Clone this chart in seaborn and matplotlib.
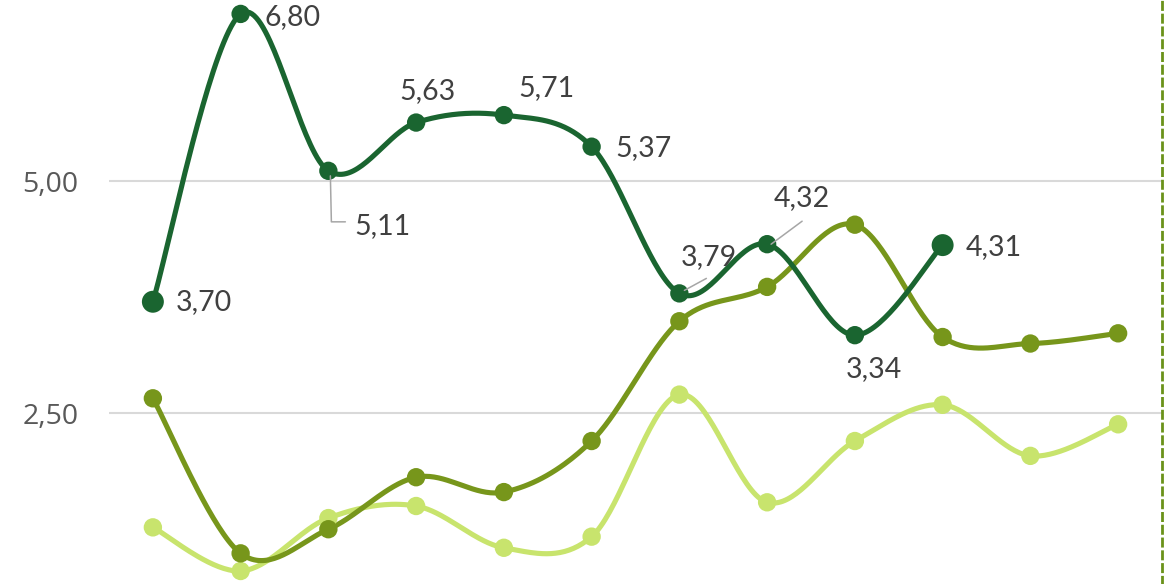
import numpy as np
import pandas as pd
import matplotlib
matplotlib.use("Agg")
import matplotlib.pyplot as plt
from matplotlib.lines import Line2D
import seaborn as sns

# Dados
pontos = list(range(12))
serie_escura = [3.70, 6.80, 5.11, 5.63, 5.71, 5.37, 3.79, 4.32, 3.34, 4.31]
serie_media = [2.66, 0.99, 1.25, 1.81, 1.65, 2.20, 3.49, 3.86, 4.53, 3.32, 3.25, 3.36]
serie_clara = [1.27, 0.80, 1.37, 1.50, 1.05, 1.17, 2.70, 1.54, 2.20, 2.59, 2.04, 2.38]
nomes = ["Escura", "Média", "Clara"]
cores = {"Escura": "#1a6530", "Média": "#77961b", "Clara": "#c8e46d"}
ticks_y = [2.50, 5.00]
rotulos_y = ["2,50", "5,00"]

# Rótulos de dados da série escura: deslocamento em pixels e alinhamento
rotulos = [(23, 0, "left"), (24, -3, "left"), (26, -55, "left"), (11, 32, "center"),
           (43, 27, "center"), (24, -1, "left"), (29, 36, "center"), (35, 46, "center"),
           (19, -34, "center"), (23, -2, "left")]


def suavizar(x, y, n=40):
    # curva suave tipo Catmull-Rom (como a linha suavizada do Excel)
    p = np.column_stack([x, y]).astype(float)
    xs, ys = [], []
    for i in range(len(p) - 1):
        p0 = p[i - 1] if i > 0 else p[i]
        p1, p2 = p[i], p[i + 1]
        p3 = p[i + 2] if i + 2 < len(p) else p[i + 1]
        c1 = p1 + (p2 - p0) / 6
        c2 = p2 - (p3 - p1) / 6
        t = np.linspace(0, 1, n)[:, None]
        b = (1 - t) ** 3 * p1 + 3 * (1 - t) ** 2 * t * c1 + 3 * (1 - t) * t ** 2 * c2 + t ** 3 * p2
        xs.extend(b[:, 0])
        ys.extend(b[:, 1])
    return xs, ys


df = pd.concat([
    pd.DataFrame({"x": pontos[:len(v)], "y": v, "serie": nome})
    for nome, v in zip(nomes, [serie_escura, serie_media, serie_clara])
])

curvas = []
for nome, grupo in df.groupby("serie", sort=False):
    cx, cy = suavizar(grupo["x"].values, grupo["y"].values)
    curvas.append(pd.DataFrame({"x": cx, "y": cy, "serie": nome}))
df_curvas = pd.concat(curvas)

sns.set_theme(style="white")
plt.rcParams["font.family"] = ["Open Sans", "DejaVu Sans"]

fig = plt.figure(figsize=(11.64, 5.84), dpi=100)
ax = fig.add_axes([109 / 1164, 0, (1162 - 109) / 1164, 1])

for nome in ["Clara", "Média", "Escura"]:
    sub = df_curvas[df_curvas["serie"] == nome]
    sns.lineplot(data=sub, x="x", y="y", sort=False, color=cores[nome], lw=3.7,
                 ax=ax, legend=False, estimator=None)
    pts = df[df["serie"] == nome]
    tamanhos = [175] * len(pts)
    if nome == "Escura":
        tamanhos[0] = tamanhos[-1] = 250
    sns.scatterplot(data=pts, x="x", y="y", color=cores[nome], s=tamanhos,
                    edgecolor="none", ax=ax, legend=False, zorder=5)

ax.set_xlim(-0.5, 11.5)
ax.set_ylim(0.66, 6.95)
ax.set_yticks(ticks_y)
ax.set_yticklabels(rotulos_y, fontsize=20.5, color="#595959", family="Open Sans")
ax.set_xticks([])
ax.set_xlabel("")
ax.set_ylabel("")
ax.tick_params(axis="y", length=0, pad=22)
ax.grid(axis="y", color="#d9d9d9", lw=1.5)
ax.set_axisbelow(True)
for lado in ["top", "left", "bottom"]:
    ax.spines[lado].set_visible(False)
ax.spines["right"].set_color("#6a921a")
ax.spines["right"].set_linewidth(2.0)
ax.spines["right"].set_linestyle((0, (2.6, 2.0)))

for i, (v, (dx, dy, ha)) in enumerate(zip(serie_escura, rotulos)):
    ax.annotate(f"{v:.2f}".replace(".", ","), (pontos[i], v), xytext=(dx, dy),
                textcoords="offset pixels", ha=ha, va="center", fontsize=20.5,
                color="#404040", family=["Lato", "DejaVu Sans"])

# linhas de chamada
fig.canvas.draw()
chamadas = {2: [(2, -5), (3, -51), (17, -51)], 6: [(5, 3), (27, 15)], 7: [(4, 0), (35, 23)]}
for i, vertices in chamadas.items():
    px, py = ax.transData.transform((pontos[i], serie_escura[i]))
    xs = [px + a for a, b in vertices]
    ys = [py + b for a, b in vertices]
    fig.add_artist(Line2D(xs, ys, transform=None, color="#a6a6a6", lw=1.1, zorder=6))

fig.savefig("out.png", dpi=100)
